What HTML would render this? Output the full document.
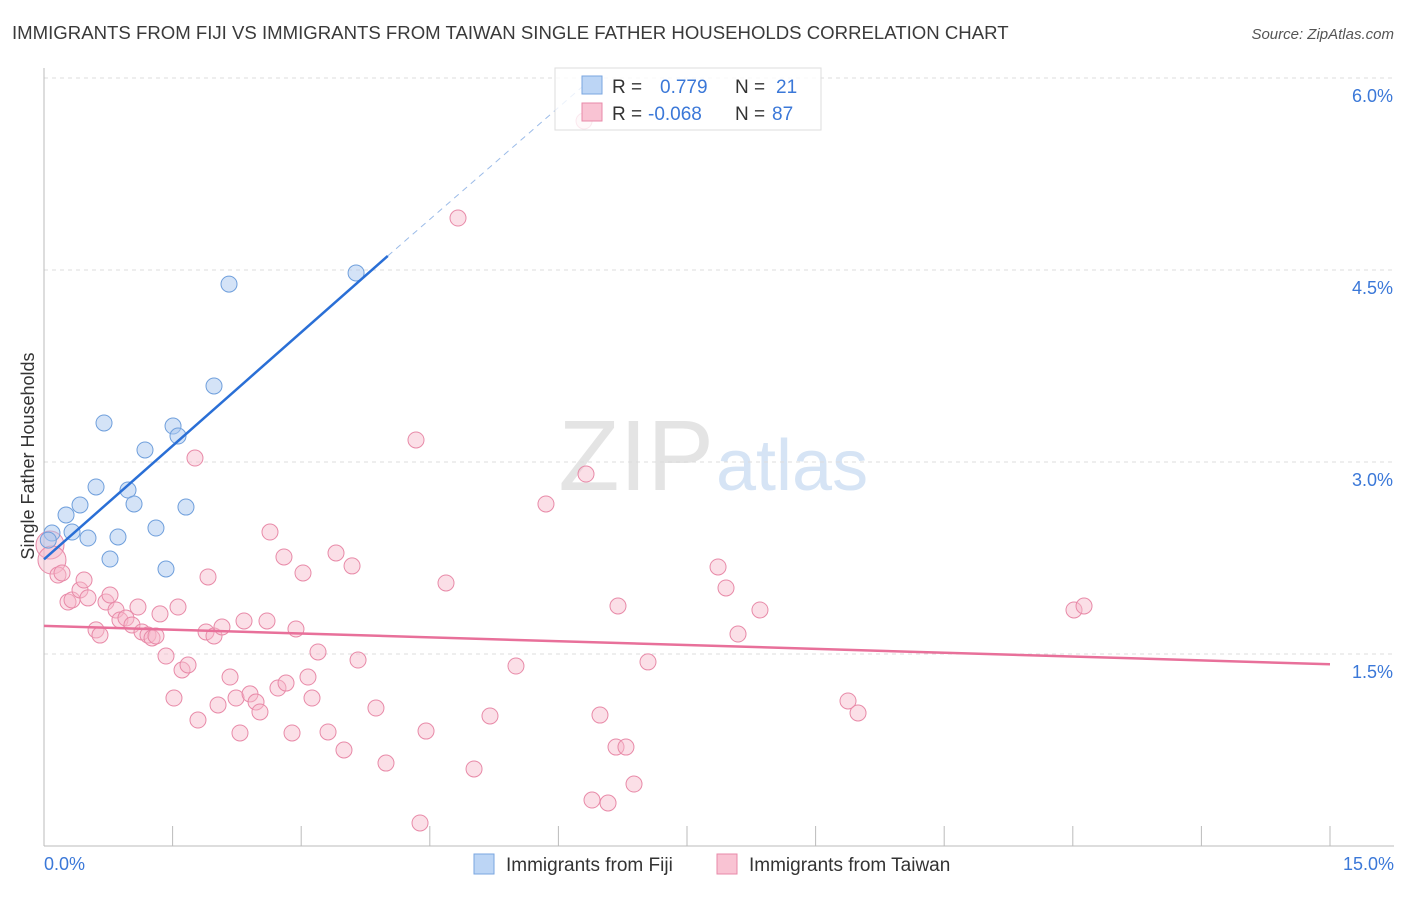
<!DOCTYPE html>
<html><head><meta charset="utf-8">
<style>
body{margin:0;background:#fff;font-family:"Liberation Sans",sans-serif;}
svg text{font-family:"Liberation Sans",sans-serif;}
</style></head>
<body>
<svg id="chart" width="1406" height="892" xmlns="http://www.w3.org/2000/svg">
<text x="12" y="39" font-size="18.6" fill="#3a3a3a">IMMIGRANTS FROM FIJI VS IMMIGRANTS FROM TAIWAN SINGLE FATHER HOUSEHOLDS CORRELATION CHART</text>
<text x="1394" y="39" font-size="15" fill="#555" text-anchor="end" font-style="italic">Source: ZipAtlas.com</text>
<text x="714" y="490" font-size="100" fill="#e4e4e4" text-anchor="end" font-family="Liberation Serif">ZIP</text>
<text x="716" y="490" font-size="72" fill="#d6e4f5">atlas</text>
<g id="grid"></g>
<g id="axes"></g>
<g id="marks"></g>
<text transform="translate(34,456) rotate(-90)" font-size="18" fill="#333" text-anchor="middle">Single Father Households</text>
<g>
<rect x="555" y="68" width="266" height="62" fill="#fff" fill-opacity="0.8" stroke="#ddd"/>
<rect x="582" y="76" width="20" height="18" fill="#bcd5f5" stroke="#7aa6e0"/>
<rect x="582" y="103" width="20" height="18" fill="#f9c3d3" stroke="#e88aa8"/>
<text x="612" y="93" font-size="19" fill="#333">R =</text>
<text x="660" y="93" font-size="19" fill="#3b78d8">0.779</text>
<text x="735" y="93" font-size="19" fill="#333">N =</text>
<text x="776" y="93" font-size="19" fill="#3b78d8">21</text>
<text x="612" y="120" font-size="19" fill="#333">R =</text>
<text x="648" y="120" font-size="19" fill="#3b78d8">-0.068</text>
<text x="735" y="120" font-size="19" fill="#333">N =</text>
<text x="772" y="120" font-size="19" fill="#3b78d8">87</text>
</g>
<g>
<rect x="474" y="854" width="20" height="20" fill="#bcd5f5" stroke="#7aa6e0"/>
<text x="506" y="871" font-size="19" fill="#333">Immigrants from Fiji</text>
<rect x="717" y="854" width="20" height="20" fill="#f9c3d3" stroke="#e88aa8"/>
<text x="749" y="871" font-size="19" fill="#333">Immigrants from Taiwan</text>
</g>
</svg>
<script>
const fijiX=[0.093,0.257,0.327,0.42,0.513,0.607,0.70,0.77,0.863,0.98,1.05,1.178,1.306,1.423,1.505,1.563,1.656,1.983,2.158,3.64,0.05];
const fijiY=[2.445,2.586,2.453,2.664,2.406,2.805,3.305,2.242,2.414,2.781,2.672,3.094,2.484,2.164,3.281,3.203,2.648,3.594,4.39,4.477,2.39];
const twPx=[[50,545],[52,560],[58,575],[62,573],[68,602],[72,600],[80,590],[84,580],[88,598],[96,630],[100,635],[106,602],[110,595],[116,610],[120,620],[126,618],[132,625],[138,607],[142,632],[148,635],[152,638],[156,636],[160,614],[166,656],[174,698],[178,607],[182,670],[188,665],[195,458],[198,720],[206,632],[208,577],[214,636],[218,705],[222,627],[230,677],[236,698],[240,733],[244,621],[250,694],[256,702],[260,712],[267,621],[270,532],[278,688],[284,557],[286,683],[292,733],[296,629],[303,573],[308,677],[312,698],[318,652],[328,732],[336,553],[344,750],[352,566],[358,660],[376,708],[386,763],[416,440],[420,823],[426,731],[446,583],[458,218],[474,769],[490,716],[516,666],[546,504],[584,121],[586,474],[592,800],[600,715],[608,803],[616,747],[618,606],[626,747],[634,784],[648,662],[718,567],[726,588],[738,634],[760,610],[848,701],[858,713],[1074,610],[1084,606]];
const taiwanX=twPx.map(p=>+((p[0]-44)/1286*15).toFixed(3));
const taiwanY=twPx.map(p=>+((846-p[1])/768*6).toFixed(3));
const yTicks=[1.5,3.0,4.5,6.0];
const yTickLabels=["1.5%","3.0%","4.5%","6.0%"];
const xTicks=[0,1.5,3,4.5,6,7.5,9,10.5,12,13.5,15];
const fijiTrend=[[0,2.24],[4.01,4.61]];
const fijiTrendExt=[[4.01,4.61],[6.31,5.95]];
const taiwanTrend=[[0,1.72],[15,1.42]];

const NS="http://www.w3.org/2000/svg";
const sx=v=>44+v/15*1286, sy=v=>846-v/6*768;
function mk(parent,tag,attrs){const e=document.createElementNS(NS,tag);for(const k in attrs)e.setAttribute(k,attrs[k]);document.getElementById(parent).appendChild(e);return e;}
yTicks.forEach((t,i)=>{
 const l=mk('grid','line',{x1:44,x2:1394,y1:sy(t),y2:sy(t),stroke:'#ddd','stroke-dasharray':'4,4'});
 
 
 const tx=mk('grid','text',{x:1393,y:sy(t)+24,'font-size':18,fill:'#3b78d8','text-anchor':'end'});
 tx.textContent=yTickLabels[i];
 
 
});
let ax=mk('axes','line',{x1:44,x2:44,y1:68,y2:846,stroke:'#bbb'});


ax=mk('axes','line',{x1:44,x2:1394,y1:846,y2:846,stroke:'#bbb'});


xTicks.forEach(t=>{
 const l=mk('axes','line',{x1:sx(t),x2:sx(t),y1:826,y2:846,stroke:'#bbb'});
 
 
});
let xl=mk('axes','text',{x:44,y:870,'font-size':18,fill:'#3b78d8'});xl.textContent='0.0%';


xl=mk('axes','text',{x:1394,y:870,'font-size':18,fill:'#3b78d8','text-anchor':'end'});xl.textContent='15.0%';


taiwanX.forEach((x,i)=>{
 const big=i<2;
 const c=mk('marks','circle',{cx:sx(x),cy:sy(taiwanY[i]),r:big?14:8,fill:'#f7b8ca','fill-opacity':0.45,stroke:'#e88aa8','stroke-width':1});
 
 
});
fijiX.forEach((x,i)=>{
 const c=mk('marks','circle',{cx:sx(x),cy:sy(fijiY[i]),r:8,fill:'#aac8f0','fill-opacity':0.5,stroke:'#6f9fdc','stroke-width':1});
 
 
});
let tl=mk('marks','line',{x1:sx(fijiTrend[0][0]),y1:sy(fijiTrend[0][1]),x2:sx(fijiTrend[1][0]),y2:sy(fijiTrend[1][1]),stroke:'#2a6fd6','stroke-width':2.5});


tl=mk('marks','line',{x1:sx(fijiTrendExt[0][0]),y1:sy(fijiTrendExt[0][1]),x2:sx(fijiTrendExt[1][0]),y2:sy(fijiTrendExt[1][1]),stroke:'#9bbbe8','stroke-width':1,'stroke-dasharray':'6,5'});


tl=mk('marks','line',{x1:sx(taiwanTrend[0][0]),y1:sy(taiwanTrend[0][1]),x2:sx(taiwanTrend[1][0]),y2:sy(taiwanTrend[1][1]),stroke:'#e8709a','stroke-width':2.5});


</script>
</body></html>
